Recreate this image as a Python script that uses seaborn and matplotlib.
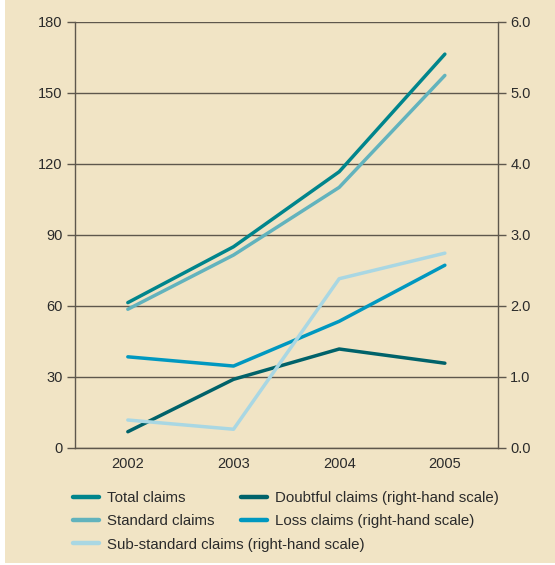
import matplotlib
matplotlib.use("Agg")
import matplotlib.pyplot as plt
import matplotlib.ticker as mticker
from matplotlib.lines import Line2D
import numpy as np
import pandas as pd
import seaborn as sns

# Claims by category, 2002-2005
years = ["2002", "2003", "2004", "2005"]
total_claims = [61.3, 84.9, 116.6, 166.3]          # left-hand scale
standard_claims = [58.5, 81.4, 110.0, 157.3]       # left-hand scale
doubtful_claims = [0.225, 0.963, 1.39, 1.19]       # right-hand scale
loss_claims = [1.28, 1.15, 1.78, 2.57]             # right-hand scale
substandard_claims = [0.39, 0.26, 2.38, 2.74]      # right-hand scale

left_ticks = [0, 30, 60, 90, 120, 150, 180]
right_ticks = [0.0, 1.0, 2.0, 3.0, 4.0, 5.0, 6.0]

labels = {
    "total": "Total claims",
    "standard": "Standard claims",
    "sub": "Sub-standard claims (right-hand scale)",
    "doubtful": "Doubtful claims (right-hand scale)",
    "loss": "Loss claims (right-hand scale)",
}
colors = {
    labels["total"]: "#00858C",
    labels["standard"]: "#62B3BD",
    labels["sub"]: "#A9D7E3",
    labels["doubtful"]: "#00626A",
    labels["loss"]: "#0098C0",
}

left_df = pd.DataFrame({
    "year": years * 2,
    "value": total_claims + standard_claims,
    "series": [labels["total"]] * 4 + [labels["standard"]] * 4,
})
right_df = pd.DataFrame({
    "year": years * 3,
    "value": doubtful_claims + loss_claims + substandard_claims,
    "series": [labels["doubtful"]] * 4 + [labels["loss"]] * 4 + [labels["sub"]] * 4,
})

sns.set_theme(style="white")
plt.rcParams["font.family"] = ["Liberation Sans", "DejaVu Sans"]

bg = "#F1E4C5"
text_color = "#2b2b2b"
grid_color = "#5e574c"

fig = plt.figure(figsize=(5.55, 5.65), dpi=100, facecolor=bg)
# white margins at the left and bottom edges
fig.patches.append(plt.Rectangle((0, 0), 5 / 555, 1, transform=fig.transFigure,
                                 facecolor="white", edgecolor="none", zorder=0))
fig.patches.append(plt.Rectangle((0, 0), 1, 2.5 / 565, transform=fig.transFigure,
                                 facecolor="white", edgecolor="none", zorder=0))

ax = fig.add_axes([75 / 555, 1 - 447.7 / 565, (497.7 - 75) / 555, (447.7 - 21.7) / 565])
ax.set_facecolor(bg)
ax2 = ax.twinx()

lw = 2.5
sns.lineplot(data=right_df, x="year", y="value", hue="series", palette=colors,
             ax=ax2, linewidth=lw, legend=False, sort=False)
sns.lineplot(data=left_df, x="year", y="value", hue="series", palette=colors,
             ax=ax, linewidth=lw, legend=False, sort=False)
for a in (ax, ax2):
    for ln in a.get_lines():
        ln.set_solid_capstyle("round")
        ln.set_solid_joinstyle("round")

# right axis lines drawn above left-axis grid
ax.set_zorder(1)
ax2.set_zorder(2)
ax.patch.set_visible(True)
ax2.patch.set_visible(False)

ax.set_xlim(-0.5, 3.5)
ax.set_ylim(0, 180)
ax2.set_ylim(0, 6.0)

ax.set_yticks(left_ticks)
ax.set_yticklabels([str(t) for t in left_ticks])
ax2.set_yticks(right_ticks)
ax2.set_yticklabels([f"{t:.1f}" for t in right_ticks])

ax.xaxis.set_major_locator(mticker.FixedLocator(range(len(years))))
ax.set_xticklabels(years)
ax.xaxis.set_minor_locator(mticker.FixedLocator(np.arange(-0.5, len(years), 1.0)))
ax.tick_params(axis="x", which="major", length=0, pad=7, labelsize=10.5, labelcolor=text_color)
ax.tick_params(axis="x", which="minor", length=5, width=1, color=grid_color, direction="out")
ax.tick_params(axis="y", length=6, width=1, color=grid_color, direction="out",
               labelsize=10.5, labelcolor=text_color, pad=3, left=True)
ax2.tick_params(axis="y", length=6, width=1, color=grid_color, direction="out",
                labelsize=10.5, labelcolor=text_color, pad=3, right=True)

ax.set_xlabel("")
ax.set_ylabel("")
ax2.set_xlabel("")
ax2.set_ylabel("")

ax.yaxis.grid(True, color=grid_color, linewidth=1.0)
ax.set_axisbelow(True)
ax.xaxis.grid(False)

for a in (ax, ax2):
    a.spines["top"].set_visible(False)
    for s in ("left", "right", "bottom"):
        a.spines[s].set_color(grid_color)
        a.spines[s].set_linewidth(1.0)
ax.spines["right"].set_visible(False)
ax2.spines["left"].set_visible(False)
ax2.spines["bottom"].set_visible(False)

# legend in two columns beneath the plot
def handle(lbl):
    return Line2D([], [], color=colors[lbl], linewidth=3.2, solid_capstyle="round")

col1 = [labels["total"], labels["standard"], labels["sub"]]
col2 = [labels["doubtful"], labels["loss"]]
leg_kw = dict(frameon=False, fontsize=10.8, handlelength=1.7, handletextpad=0.55,
              labelspacing=0.62, borderaxespad=0, borderpad=0, labelcolor=text_color)
fig.legend([handle(l) for l in col1], col1, loc="upper left",
           bbox_to_anchor=(73 / 555, 1 - 491 / 565), **leg_kw)
fig.legend([handle(l) for l in col2], col2, loc="upper left",
           bbox_to_anchor=(241 / 555, 1 - 491 / 565), **leg_kw)

fig.savefig("out.png", dpi=100, facecolor=bg)
